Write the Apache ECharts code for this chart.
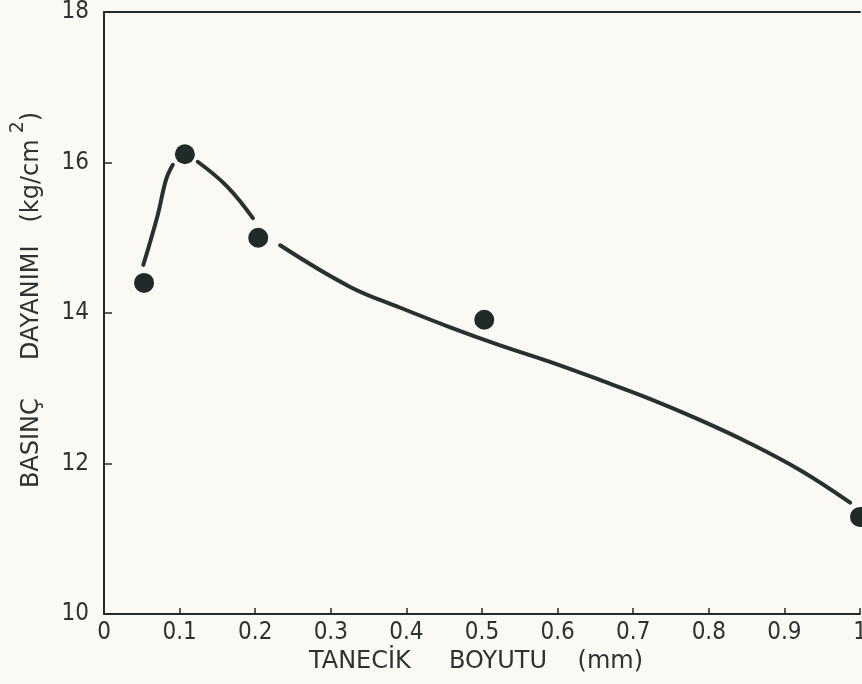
<!DOCTYPE html>
<html>
<head>
<meta charset="utf-8">
<script src="https://cdn.jsdelivr.net/npm/echarts@6/dist/echarts.min.js"></script>
<style>
html,body{margin:0;padding:0;background:#fbf9f3;}
#c{width:862px;height:684px;}
</style>
</head>
<body>
<div id="c"></div>
<script>
// Measured points
var pointX = [0.053, 0.107, 0.204, 0.503, 1.0];
var pointY = [14.40, 16.11, 15.00, 13.91, 11.29];

// Hand-drawn fitted curve (three pieces, gaps near markers)
var curve1X = [0.052, 0.071, 0.082, 0.091];
var curve1Y = [14.64, 15.30, 15.77, 15.97];
var curve2X = [0.124, 0.163, 0.197];
var curve2Y = [16.01, 15.68, 15.26];
var curve3X = [0.233, 0.325, 0.392, 0.458, 0.524, 0.590, 0.656, 0.722, 0.788, 0.854, 0.921, 0.987];
var curve3Y = [14.90, 14.35, 14.07, 13.81, 13.57, 13.35, 13.11, 12.86, 12.58, 12.27, 11.91, 11.48];

var xTicks = ['0', '0.1', '0.2', '0.3', '0.4', '0.5', '0.6', '0.7', '0.8', '0.9', '1'];
var yTicks = ['10', '12', '14', '16', '18'];

function pairs(xs, ys) { return xs.map(function (x, i) { return [x, ys[i]]; }); }
var curveData = pairs(curve1X, curve1Y).concat([['-', '-']])
  .concat(pairs(curve2X, curve2Y)).concat([['-', '-']])
  .concat(pairs(curve3X, curve3Y));

var ink = '#252927';
var txt = '#2e3230';
var fontFam = '"DejaVu Sans Condensed", "Liberation Sans Narrow", sans-serif';
var nameFam = '"DejaVu Sans", sans-serif';

var chart = echarts.init(document.getElementById('c'));
chart.setOption({
  backgroundColor: '#fbf9f3',
  animation: false,
  grid: { left: 104, right: 2, top: 12, bottom: 70, outerBoundsMode: 'none', containLabel: false },
  xAxis: [{
    type: 'value', min: 0, max: 1, interval: 0.1,
    name: 'TANECİK     BOYUTU    (mm)',
    nameLocation: 'middle', nameGap: 32,
    nameTextStyle: { fontFamily: nameFam, fontSize: 24, color: txt, padding: [0, 12, 0, 0] },
    axisLine: { show: true, lineStyle: { color: ink, width: 2 } },
    axisTick: { show: true, inside: true, length: 6, lineStyle: { color: ink, width: 1.5 } },
    axisLabel: {
      color: txt, fontFamily: fontFam, fontSize: 24, margin: 7,
      formatter: function (v) { return xTicks[Math.round(v * 10)]; }
    },
    splitLine: { show: false }
  }, {
    type: 'value', min: 0, max: 1, position: 'top',
    axisLine: { show: true, lineStyle: { color: ink, width: 2 } },
    axisTick: { show: false }, axisLabel: { show: false }, splitLine: { show: false }
  }],
  yAxis: {
    type: 'value', min: 10, max: 18, interval: 2,
    name: '{t|BASINÇ     DAYANIMI   (kg/cm}{s|2}{t|)}',
    nameLocation: 'middle', nameGap: 50, nameRotate: 90,
    nameTextStyle: {
      color: txt,
      padding: [0, 0, 0, 26],
      rich: {
        t: { fontFamily: nameFam, fontSize: 24, color: txt },
        s: { fontFamily: nameFam, fontSize: 19, color: txt, padding: [0, 0, 26, 6] }
      }
    },
    axisLine: { show: true, lineStyle: { color: ink, width: 2 } },
    axisTick: { show: true, inside: true, length: 8, lineStyle: { color: ink, width: 1.5 } },
    axisLabel: {
      color: txt, fontFamily: fontFam, fontSize: 24, margin: 15,
      formatter: function (v) { return yTicks[Math.round((v - 10) / 2)]; }
    },
    splitLine: { show: false }
  },
  series: [{
    type: 'line',
    data: curveData,
    smooth: 0.4,
    showSymbol: false,
    connectNulls: false,
    lineStyle: { color: '#263230', width: 4, cap: 'round' },
    z: 2
  }, {
    type: 'scatter',
    data: pairs(pointX, pointY),
    symbolSize: 20,
    itemStyle: { color: '#1f2b28', opacity: 1 },
    z: 3
  }]
});
</script>
</body>
</html>
